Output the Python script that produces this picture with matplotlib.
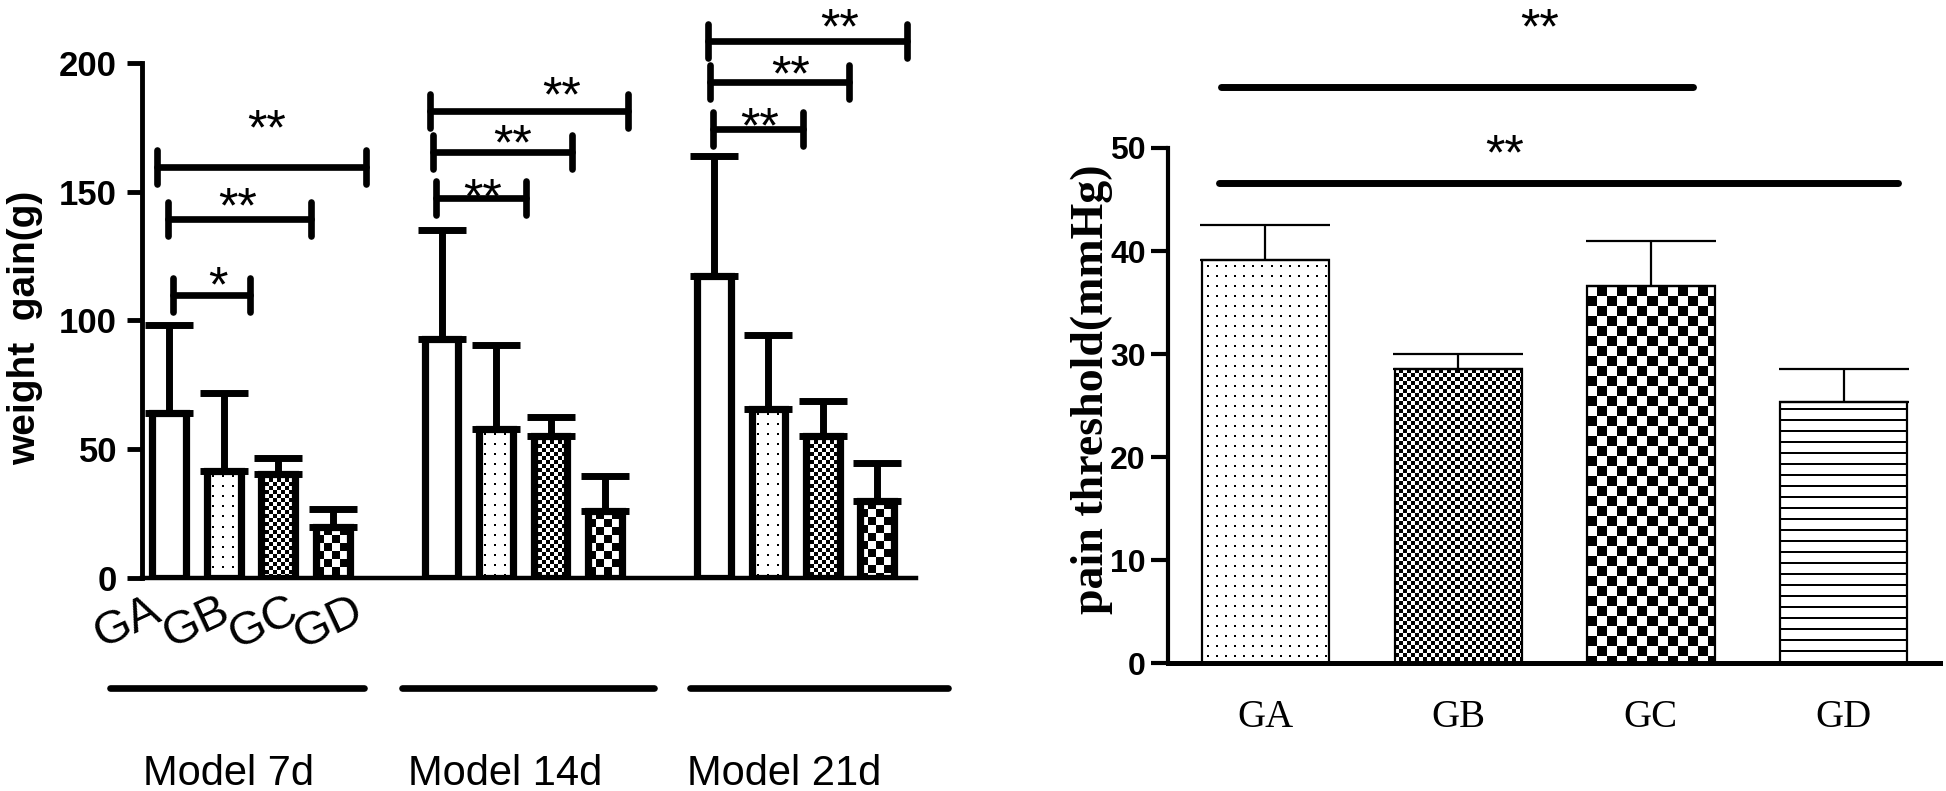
import numpy as np
import matplotlib
matplotlib.use('Agg')
import matplotlib.pyplot as plt

# ---- left panel: weight gain ----
groups = ['Model 7d', 'Model 14d', 'Model 21d']
names = ['GA', 'GB', 'GC', 'GD']
gain_mean = [[64.0, 41.7, 40.2, 19.8],
             [92.9, 58.0, 55.1, 26.0],
             [117.2, 65.7, 55.0, 29.8]]
gain_top = [[98.4, 71.8, 46.6, 26.8],
            [135.3, 90.3, 62.5, 39.6],
            [163.8, 94.4, 68.7, 44.6]]
group_start = [0, 5, 10]
# significance brackets: x start, x end, y, star x, star y, label
gain_sig = [(-0.22, 3.61, 159.6, 1.78, 179.6, '**'),
            (-0.02, 2.61, 139.4, 1.25, 149.5, '**'),
            (0.07, 1.49, 110.0, 0.90, 118.8, '*'),
            (4.79, 8.43, 181.4, 7.21, 192.6, '**'),
            (4.84, 7.39, 165.4, 6.31, 174.0, '**'),
            (4.90, 6.55, 147.6, 5.76, 153.0, '**'),
            (9.90, 13.54, 208.5, 12.31, 219.0, '**'),
            (9.93, 12.48, 192.5, 11.41, 200.6, '**'),
            (9.98, 11.63, 174.4, 10.84, 180.3, '**')]
name_x = [-0.77, 0.50, 1.73, 2.92]
group_line = [(-1.08, 3.58), (4.28, 8.90), (9.56, 14.30)]
group_text_x = [1.08, 6.16, 11.29]

# ---- right panel: pain threshold ----
pain_mean = [39.1, 28.5, 36.6, 25.3]
pain_top = [42.5, 30.0, 41.0, 28.5]
pain_sig = [(-0.23, 2.22, 55.9, 1.42, 63.0, '**'),
            (-0.24, 3.28, 46.6, 1.24, 50.8, '**')]


def fill_pattern(ax, x0, x1, y1, kind, a, b=None):
    (px0, py0), (px1, py1) = ax.transData.transform([(x0, 0), (x1, y1)])
    w = max(int(round(px1 - px0)), 1)
    h = max(int(round(py1 - py0)), 1)
    i, j = np.indices((h, w))
    if kind == 'check':
        img = ((i // a + j // a) % 2).astype(float)
    elif kind == 'dots':
        img = (((i + b // 2) % b < 2) & ((j + a // 2) % a < 2)).astype(float)
    else:
        img = ((i + a // 2) % a < 2).astype(float)
    ax.imshow(img, cmap='gray_r', vmin=0, vmax=1, extent=(x0, x1, 0, y1),
              aspect='auto', interpolation='nearest', zorder=2)


fig = plt.figure(figsize=(19.46, 7.91), dpi=100)

# left axes
ax = fig.add_axes([0.07297, 0.2693, 0.39774, 0.6511])
ax.set_xlim(-0.5, 13.71)
ax.set_ylim(0, 200)
bw = 0.62
left_pat = [None, ('dots', 10, 10), ('check', 4), ('check', 8)]
for g in range(3):
    xs = [group_start[g] + k for k in range(4)]
    for k in range(4):
        if left_pat[k] is not None:
            fill_pattern(ax, xs[k] - bw / 2, xs[k] + bw / 2, gain_mean[g][k], *left_pat[k])
    ax.bar(xs, gain_mean[g], bw, fill=False, edgecolor='black', linewidth=5.2, zorder=3)
    up = np.array(gain_top[g]) - np.array(gain_mean[g])
    ax.errorbar(xs, gain_mean[g], yerr=[np.zeros(4), up], fmt='none', ecolor='black',
                elinewidth=5, capsize=17, capthick=5, zorder=2.5)

for x0, x1, y, sx, sy, lab in gain_sig:
    ax.plot([x0, x1], [y, y], color='black', lw=4.8, solid_capstyle='round', clip_on=False)
    for xe in (x0, x1):
        ax.plot([xe, xe], [y - 6.6, y + 6.6], color='black', lw=4.8,
                solid_capstyle='round', clip_on=False)
    ax.annotate(lab, (sx, sy), xytext=(0, -21), textcoords='offset points',
                ha='center', va='baseline', fontsize=36, family='Liberation Sans',
                annotation_clip=False)

for k in range(4):
    ax.text(name_x[k], -17.5, names[k], rotation=25, ha='center', va='center',
            fontsize=34, family='Liberation Sans', clip_on=False)
for g in range(3):
    ax.plot(group_line[g], [-42.7, -42.7], color='black', lw=4.8,
            solid_capstyle='round', clip_on=False)
    ax.text(group_text_x[g], -76, groups[g], ha='center', va='center',
            fontsize=30, family='Liberation Sans', clip_on=False)

ax.spines['top'].set_visible(False)
ax.spines['right'].set_visible(False)
ax.spines['left'].set_linewidth(3.5)
ax.spines['bottom'].set_linewidth(3.2)
ax.set_xticks([])
ax.set_yticks([0, 50, 100, 150, 200])
ax.set_yticklabels(['0', '50', '100', '150', '200'], fontsize=25, fontweight='bold',
                   family='Liberation Sans')
ax.tick_params(axis='y', length=11, width=3.5, pad=7)
fig.text(25 / 1946, 1 - 328 / 791, 'weight  gain(g)', rotation=90, ha='center',
         va='center', fontsize=28, fontweight='bold', family='Liberation Sans')

# right axes
ax2 = fig.add_axes([0.6002, 0.1618, 0.3967, 0.6511])
ax2.set_xlim(-0.506, 3.5)
ax2.set_ylim(0, 50)
bw2 = 0.66
right_pat = [('dots', 9, 10), ('check', 4), ('check', 10), ('lines', 11)]
xs = np.arange(4)
for k in range(4):
    fill_pattern(ax2, xs[k] - bw2 / 2, xs[k] + bw2 / 2, pain_mean[k], *right_pat[k])
ax2.bar(xs, pain_mean, bw2, fill=False, edgecolor='black', linewidth=1.6, zorder=3)
up2 = np.array(pain_top) - np.array(pain_mean)
ax2.errorbar(xs, pain_mean, yerr=[np.zeros(4), up2], fmt='none', ecolor='black',
             elinewidth=1.6, capsize=47, capthick=1.6, zorder=2.5)

for x0, x1, y, sx, sy, lab in pain_sig:
    ax2.plot([x0, x1], [y, y], color='black', lw=5, solid_capstyle='round', clip_on=False)
    ax2.annotate(lab, (sx, sy), xytext=(0, -21), textcoords='offset points',
                 ha='center', va='baseline', fontsize=36, family='Liberation Sans',
                 annotation_clip=False)

ax2.spines['top'].set_visible(False)
ax2.spines['right'].set_visible(False)
ax2.spines['left'].set_linewidth(3.0)
ax2.spines['bottom'].set_linewidth(3.6)
ax2.set_yticks([0, 10, 20, 30, 40, 50])
ax2.set_yticklabels(['0', '10', '20', '30', '40', '50'], fontsize=23, fontweight='bold',
                    family='Liberation Sans')
ax2.tick_params(axis='y', length=12, width=3.0, pad=4)
ax2.set_xticks(xs)
ax2.set_xticklabels(names, fontsize=28, family='Liberation Serif')
ax2.tick_params(axis='x', length=0, pad=26)
fig.text(1092 / 1946, 1 - 389 / 791, 'pain threshold(mmHg)', rotation=90, ha='center',
         va='center', fontsize=33, fontweight='bold', family='Liberation Serif')

fig.savefig('out.png', dpi=100)
